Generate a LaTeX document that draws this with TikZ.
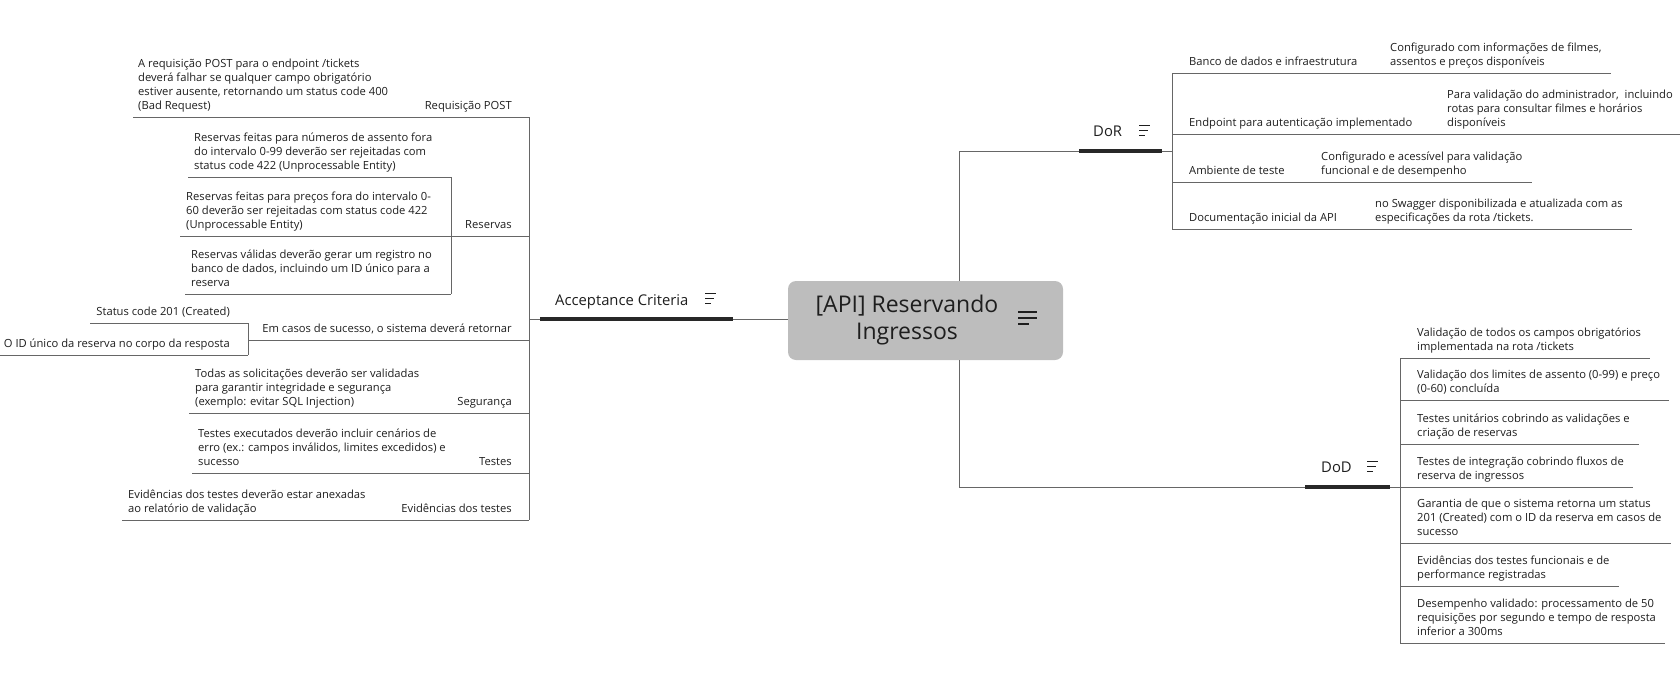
\documentclass[tikz,border=0pt]{standalone}
\usepackage{fontspec}
\setmainfont{Open Sans}
\usepackage{xcolor}
\usepackage{tikz}
\usetikzlibrary{positioning}

\definecolor{ink}{HTML}{1E1E1E}
\definecolor{wire}{HTML}{666666}
\definecolor{barc}{HTML}{282828}
\definecolor{hubfill}{HTML}{BDBDBD}

\tikzset{
  note/.style={inner sep=0pt, text=ink, align=left, font=\fontsize{11.2}{13.7}\selectfont},
  topic/.style={inner sep=0pt, text=ink, font=\fontsize{14.8}{17}\selectfont},
  twig/.style={draw=wire, line width=1pt},
  bar/.style={draw=barc, line width=4pt},
}
% small notes glyph: #1 = left x, #2 = top y
\newcommand{\noteicon}[2]{%
  \draw[ink, line width=0.9pt] (#1,#2) -- ++(11,0) (#1,#2+5) -- ++(9,0) (#1,#2+10) -- ++(6,0);}

\begin{document}
\begin{tikzpicture}[x=1pt, y=-1pt]
      \useasboundingbox (0,0) rectangle (1680,680);

      % Central topic
      \node[fill=hubfill, rounded corners=8pt, minimum width=275pt, minimum height=79pt, inner sep=0pt] (hub) at (925.5,320.5) {};
      \node[font=\fontsize{23}{27}\selectfont, text=ink, align=center, inner sep=0pt] (hubtxt) at (907,320.5) {[API] Reservando\\Ingressos};
      \draw[ink, line width=2.2pt] (1018,312) -- (1037,312) (1018,318) -- (1037,318) (1018,324) -- (1029,324);

      % Acceptance Criteria branch
      \node[topic, anchor=base west] (ac) at (555,305) {Acceptance Criteria};
      \noteicon{705}{293}
      \coordinate (acbarL) at (540,319);
      \coordinate (acbarR) at (733,319);
      \coordinate (acbusT) at (529,117);
      \coordinate (acbusB) at (529,520);
      \draw[bar] (acbarL) -- (acbarR);
      \draw[twig] (acbarR) -- (hub.west |- acbarR);
      \draw[twig] (acbusT) -- (acbusB);
      \draw[twig] (acbusT |- acbarL) -- (acbarL);

      % Requisicao POST
      \node[note, anchor=base east] (post) at (512,109) {Requisição POST};
      \node[note, anchor=base west] (postd) at (138,109) {A requisição POST para o endpoint /tickets\\deverá falhar se qualquer campo obrigatório\\estiver ausente, retornando um status code 400\\(Bad Request)};
      \draw[twig] ([xshift=-5pt]postd.west |- acbusT) -- (acbusT);

      % Reservas
      \node[note, anchor=base east] (res) at (512,228) {Reservas};
      \coordinate (resU) at (529,236);
      \coordinate (resbusT) at (451,177);
      \coordinate (resbusB) at (451,294);
      \draw[twig] (resbusT) -- (resbusB);
      \node[note, anchor=base west] (res1) at (194,169) {Reservas feitas para números de assento fora\\do intervalo 0-99 deverão ser rejeitadas com\\status code 422 (Unprocessable Entity)};
      \node[note, anchor=base west] (res2) at (186,228) {Reservas feitas para preços fora do intervalo 0-\\60 deverão ser rejeitadas com status code 422\\(Unprocessable Entity)};
      \node[note, anchor=base west] (res3) at (191,286) {Reservas válidas deverão gerar um registro no\\banco de dados, incluindo um ID único para a\\reserva};
      \draw[twig] ([xshift=-6pt]res1.west |- resbusT) -- (resbusT);
      \draw[twig] ([xshift=-6pt]res2.west |- resU) -- (resU);
      \draw[twig] ([xshift=-6pt]res3.west |- resbusB) -- (resbusB);

      % Em casos de sucesso
      \node[note, anchor=base east] (ok) at (512,332) {Em casos de sucesso, o sistema deverá retornar};
      \coordinate (okU) at (529,340);
      \coordinate (okbusT) at (248,323);
      \coordinate (okbusB) at (248,355);
      \draw[twig] (okbusT) -- (okbusB);
      \draw[twig] (okbusT |- okU) -- (okU);
      \node[note, anchor=base east] (ok1) at (230,315) {Status code 201 (Created)};
      \node[note, anchor=base east] (ok2) at (230,347) {O ID único da reserva no corpo da resposta};
      \draw[twig] ([xshift=-6pt]ok1.west |- okbusT) -- (okbusT);
      \draw[twig] ([xshift=-6pt]ok2.west |- okbusB) -- (okbusB);

      % Seguranca, Testes, Evidencias
      \node[note, anchor=base east] (seg) at (512,405) {Segurança};
      \node[note, anchor=base west] (segd) at (195,405) {Todas as solicitações deverão ser validadas\\para garantir integridade e segurança\\(exemplo: evitar SQL Injection)};
      \coordinate (segU) at (529,413);
      \draw[twig] ([xshift=-6pt]segd.west |- segU) -- (segU);

      \node[note, anchor=base east] (tst) at (512,465) {Testes};
      \node[note, anchor=base west] (tstd) at (198,465) {Testes executados deverão incluir cenários de\\erro (ex.: campos inválidos, limites excedidos) e\\sucesso};
      \coordinate (tstU) at (529,473);
      \draw[twig] ([xshift=-6pt]tstd.west |- tstU) -- (tstU);

      \node[note, anchor=base east] (evi) at (512,512) {Evidências dos testes};
      \node[note, anchor=base west] (evid) at (128,512) {Evidências dos testes deverão estar anexadas\\ao relatório de validação};
      \draw[twig] ([xshift=-6pt]evid.west |- acbusB) -- (acbusB);

      % Links from the central topic to DoR and DoD
      \coordinate (hubup) at (959,151);
      \coordinate (hubdn) at (959,487);
      \coordinate (dorbarL) at (1079,151);
      \coordinate (dorbarR) at (1162,151);
      \coordinate (dodbarL) at (1305,487);
      \coordinate (dodbarR) at (1390,487);
      \draw[twig] (hub.north -| hubup) -- (hubup) -- (dorbarL);
      \draw[twig] (hub.south -| hubdn) -- (hubdn) -- (dodbarL);

      % DoR branch
      \node[topic, anchor=base west] (dor) at (1093,136.5) {DoR};
      \noteicon{1139}{125}
      \coordinate (dorbusT) at (1172,73);
      \coordinate (dorbusB) at (1172,229);
      \draw[bar] (dorbarL) -- (dorbarR);
      \draw[twig] (dorbarR) -- (dorbusT |- dorbarR);
      \draw[twig] (dorbusT) -- (dorbusB);

      \node[note, anchor=base west] (db) at (1189,65) {Banco de dados e infraestrutura};
      \node[note, anchor=base west] (dbd) at (1390,65) {Configurado com informações de filmes,\\assentos e preços disponíveis};
      \draw[twig] (dorbusT) -- ([xshift=9pt]dbd.east |- dorbusT);

      \node[note, anchor=base west] (auth) at (1189,126) {Endpoint para autenticação implementado};
      \node[note, anchor=base west] (authd) at (1447,126) {Para validação do administrador,~ incluindo\\rotas para consultar filmes e horários\\disponíveis};
      \coordinate (authU) at (1172,134);
      \draw[twig] (authU) -- ([xshift=9pt]authd.east |- authU);

      \node[note, anchor=base west] (env) at (1189,174) {Ambiente de teste};
      \node[note, anchor=base west] (envd) at (1321,174) {Configurado e acessível para validação\\funcional e de desempenho};
      \coordinate (envU) at (1172,182);
      \draw[twig] (envU) -- ([xshift=9pt]envd.east |- envU);

      \node[note, anchor=base west] (doc) at (1189,221) {Documentação inicial da API};
      \node[note, anchor=base west] (docd) at (1375,221) {no Swagger disponibilizada e atualizada com as\\especificações da rota /tickets.};
      \draw[twig] (dorbusB) -- ([xshift=9pt]docd.east |- dorbusB);

      % DoD branch
      \node[topic, anchor=base west] (dod) at (1321,472.5) {DoD};
      \noteicon{1367}{461}
      \coordinate (dodbusT) at (1400,358);
      \coordinate (dodbusB) at (1400,643);
      \draw[bar] (dodbarL) -- (dodbarR);
      \draw[twig] (dodbarR) -- (dodbusT |- dodbarR);
      \draw[twig] (dodbusT) -- (dodbusB);

      \foreach \n/\u/\t in {
        t1/358/{Validação de todos os campos obrigatórios\\implementada na rota /tickets},
        t2/400/{Validação dos limites de assento (0-99) e preço\\(0-60) concluída},
        t3/444/{Testes unitários cobrindo as validações e\\criação de reservas},
        t4/487/{Testes de integração cobrindo fluxos de\\reserva de ingressos},
        t5/543/{Garantia de que o sistema retorna um status\\201 (Created) com o ID da reserva em casos de\\sucesso},
        t6/586/{Evidências dos testes funcionais e de\\performance registradas},
        t7/643/{Desempenho validado: processamento de 50\\requisições por segundo e tempo de resposta\\inferior a 300ms}} {
        \node[note, anchor=base west] (\n) at (1417,\u-8) {\t};
        \coordinate (\n u) at (1400,\u);
        \draw[twig] (\n u) -- ([xshift=9pt]\n.east |- \n u);
      }
\end{tikzpicture}
\end{document}
